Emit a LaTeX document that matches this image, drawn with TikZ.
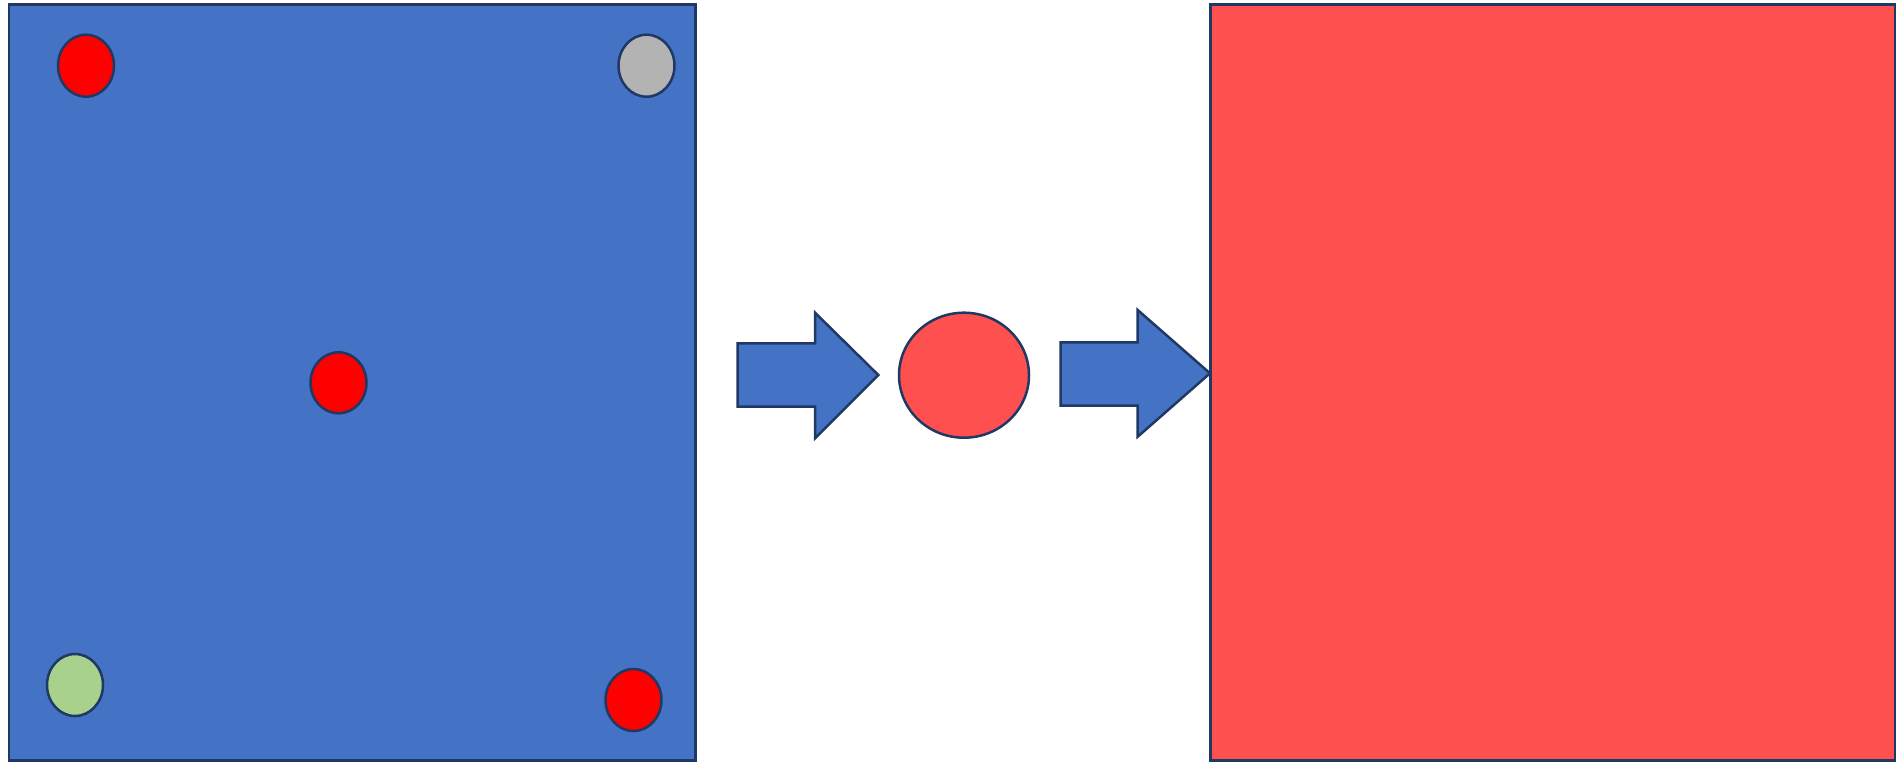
\documentclass[tikz,border=0pt]{standalone}
\usetikzlibrary{shapes.geometric}
\definecolor{boxblue}{HTML}{4472C4}
\definecolor{navy}{HTML}{1F3864}
\definecolor{softred}{HTML}{FF5050}
\definecolor{dotred}{HTML}{FF0000}
\definecolor{dotgray}{HTML}{B3B3B3}
\definecolor{dotgreen}{HTML}{A9D18E}
\tikzset{
  outline/.style={draw=navy, line width=2.5pt},
  dot/.style={outline, ellipse, inner sep=0pt, minimum width=56pt, minimum height=62pt},
  bigarrow/.style={outline, fill=boxblue, line join=miter},
}
\begin{document}
\begin{tikzpicture}[x=1pt, y=-1pt]
\useasboundingbox (0,0) rectangle (1896,763);
% left blue panel
\draw[outline, fill=boxblue] (9,4.7) rectangle (695.5,760.7);
% right red panel
\draw[outline, fill=softred] (1210.7,4.7) rectangle (1895.5,760.7);
% dots
\node[dot, fill=dotred] (d1) at (86,65.7) {};
\node[dot, fill=dotgray] (d2) at (646.5,65.7) {};
\node[dot, fill=dotred, minimum height=61pt] (d3) at (338.5,382.8) {};
\node[dot, fill=dotgreen] (d4) at (75,685) {};
\node[dot, fill=dotred] (d5) at (633.5,700) {};
% arrows
\draw[bigarrow] (737.7,343.3) -- (815,343.3) -- (815,312.7) -- (878.3,375)
  -- (815,438.3) -- (815,406.7) -- (737.7,406.7) -- cycle;
\node[outline, ellipse, fill=softred, inner sep=0pt, minimum width=130pt, minimum height=125pt] (mid) at (964,375.2) {};
\draw[bigarrow] (1060.7,342.3) -- (1137.7,342.3) -- (1137.7,310) -- (1210,373.3)
  -- (1137.7,436.7) -- (1137.7,405.7) -- (1060.7,405.7) -- cycle;
\end{tikzpicture}
\end{document}
